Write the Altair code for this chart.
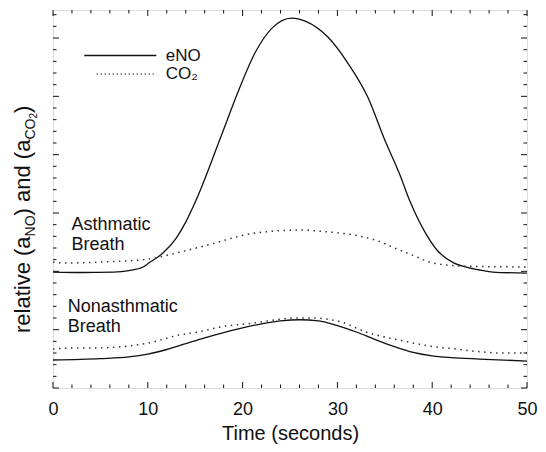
import altair as alt
import pandas as pd

# ---- data (time in s, relative units) ----
asth_no_t = [0, 3, 6.4, 8, 9.5, 10.1, 11.6, 13.0, 14.0, 15.1, 17.7, 19.6, 21.3, 23.1, 25.2, 26.6,
             29.0, 31.1, 33.2, 35.0, 36.6, 37.6, 38.4, 39.3, 40.5, 42.3, 43.6, 45.1, 46.4, 50]
asth_no_v = [9.94, 9.9, 9.94, 10.07, 10.37, 10.71, 11.57, 12.85, 14.22, 16.11, 21.51, 25.54, 28.71,
             30.85, 31.71, 31.45, 30.08, 27.85, 24.94, 21.25, 18.25, 16.11, 14.65, 13.28, 11.83,
             10.71, 10.37, 10.11, 9.94, 9.85]

asth_co2_t = [0, 1.1, 5.1, 10.1, 13.0, 16.3, 21.3, 26.2, 28.0, 32.3, 34.0, 36.3, 38.4, 39.4, 41.5, 43.0, 50]
asth_co2_v = [10.80, 10.71, 10.80, 11.05, 11.57, 12.25, 13.28, 13.54, 13.45, 13.02, 12.68, 11.91,
              11.23, 10.88, 10.54, 10.45, 10.37]

non_no_t = [0, 5, 8, 10, 12, 14, 16, 18, 20, 22, 24, 26, 28, 30, 32, 34, 36, 38, 40, 42, 45, 50]
non_no_v = [2.40, 2.52, 2.66, 2.90, 3.30, 3.80, 4.30, 4.75, 5.15, 5.50, 5.75, 5.85, 5.75, 5.35,
            4.80, 4.15, 3.55, 3.05, 2.75, 2.60, 2.48, 2.31]

non_co2_t = [0, 2.2, 4, 8, 10.1, 13.3, 15.3, 18.2, 20.3, 23.4, 25.4, 27.5, 29.4, 30.4, 33, 35.5,
             36.5, 40.5, 41.5, 45.4, 47, 50]
non_co2_v = [3.34, 3.43, 3.43, 3.60, 3.86, 4.54, 4.80, 5.31, 5.48, 5.83, 6.00, 6.00, 5.83, 5.66,
             4.80, 4.28, 4.11, 3.51, 3.43, 3.08, 3.00, 3.00]

x_major_ticks = [0, 10, 20, 30, 40, 50]
x_minor_ticks = [2, 4, 6, 8, 12, 14, 16, 18, 22, 24, 26, 28, 32, 34, 36, 38, 42, 44, 46, 48]
y_major_ticks = [0, 5, 10, 15, 20, 25, 30]
y_minor_ticks = [1, 2, 3, 4, 6, 7, 8, 9, 11, 12, 13, 14, 16, 17, 18, 19, 21, 22, 23, 24,
                 26, 27, 28, 29, 31, 32]

ann_text = ["Asthmatic", "Breath", "Nonasthmatic", "Breath"]
ann_t = [1.95, 1.95, 1.55, 1.55]
ann_v = [13.97, 12.25, 6.94, 5.23]

legend_labels = ["eNO", "CO₂"]
legend_t1 = [3.3, 4.6]
legend_t2 = [10.9, 10.9]
legend_v = [28.5, 26.9]
legend_text_t = [11.9, 11.9]

W, H = 474, 378
FONT = "Liberation Sans"
INK = "#111111"

xs = alt.Scale(domain=[0, 50], nice=False)
ys = alt.Scale(domain=[0, 32.4], nice=False)

xaxis = alt.Axis(values=x_major_ticks, ticks=False, tickSize=0, domain=False, grid=False,
                 labelFontSize=18, labelFont=FONT, labelColor=INK, labelPadding=12,
                 labelFlush=False, labelOverlap=False,
                 title="Time (seconds)", titleFont=FONT, titleFontSize=20,
                 titleFontWeight="normal", titleColor=INK, titlePadding=5)


def X(field):
    return alt.X(f"{field}:Q", scale=xs, axis=xaxis, title="Time (seconds)")


def Y(field):
    return alt.Y(f"{field}:Q", scale=ys, axis=None)


def line_df(t, v):
    return pd.DataFrame({"t": t, "v": v})


def solid(t, v):
    return alt.Chart(line_df(t, v)).mark_line(color=INK, strokeWidth=1.3, interpolate="monotone").encode(
        x=X("t"), y=Y("v"))


def dotted(t, v):
    return alt.Chart(line_df(t, v)).mark_line(color="#333333", strokeWidth=1.5, strokeDash=[1.5, 4.5],
                                              interpolate="monotone").encode(x=X("t"), y=Y("v"))


layers = [
    solid(asth_no_t, asth_no_v),
    dotted(asth_co2_t, asth_co2_v),
    solid(non_no_t, non_no_v),
    dotted(non_co2_t, non_co2_v),
]


# ticks on all four sides, pointing inwards
def xticks(vals, length):
    d = pd.DataFrame({"t": vals})
    b = alt.Chart(d).mark_rule(color=INK, strokeWidth=1).encode(
        x=X("t"), y=alt.value(H), y2=alt.value(H - length))
    t = alt.Chart(d).mark_rule(color=INK, strokeWidth=1).encode(
        x=X("t"), y=alt.value(0), y2=alt.value(length))
    return [b, t]


def yticks(vals, length):
    d = pd.DataFrame({"v": vals})
    l = alt.Chart(d).mark_rule(color=INK, strokeWidth=1).encode(
        y=Y("v"), x=alt.value(0), x2=alt.value(length))
    r = alt.Chart(d).mark_rule(color=INK, strokeWidth=1).encode(
        y=Y("v"), x=alt.value(W), x2=alt.value(W - length))
    return [l, r]


layers += xticks(x_major_ticks, 6) + xticks(x_minor_ticks, 3.5)
layers += yticks(y_major_ticks, 6) + yticks(y_minor_ticks, 3.5)

# annotations
ann = pd.DataFrame({"label": ann_text, "t": ann_t, "v": ann_v})
layers.append(alt.Chart(ann).mark_text(align="left", baseline="middle", font=FONT, fontSize=18,
                                       color=INK).encode(x=X("t"), y=Y("v"), text="label:N"))

# legend
leg = pd.DataFrame({"label": legend_labels, "t1": legend_t1, "t2": legend_t2, "v": legend_v,
                    "tt": legend_text_t})
layers.append(alt.Chart(leg.iloc[[0]]).mark_rule(color=INK, strokeWidth=1.3).encode(
    x=X("t1"), x2="t2:Q", y=Y("v")))
layers.append(alt.Chart(leg.iloc[[1]]).mark_rule(color="#333333", strokeWidth=1.3,
                                                 strokeDash=[1.2, 2.8]).encode(
    x=X("t1"), x2="t2:Q", y=Y("v")))
layers.append(alt.Chart(leg).mark_text(align="left", baseline="middle", font=FONT, fontSize=17,
                                       color=INK).encode(x=X("tt"), y=Y("v"), text="label:N"))

# y-axis title with subscripts, built from pieces (rotated)
title_parts = ["relative (a", "NO", ") and (a", "CO", "2", ")"]
title_sizes = [22, 14, 22, 14, 10, 22]
title_ypos = [323, 226.4, 205.4, 129.6, 108.6, 103]
title_xpos = [-23, -18, -23, -18, -16, -23]
for txt, fs, yp, xp in zip(title_parts, title_sizes, title_ypos, title_xpos):
    layers.append(alt.Chart(pd.DataFrame({"a": [0]})).mark_text(
        text=txt, angle=270, align="left", baseline="alphabetic", font=FONT, fontSize=fs,
        color=INK).encode(x=alt.value(xp), y=alt.value(yp)))

chart = alt.layer(*layers).properties(
    width=W, height=H,
    autosize=alt.AutoSizeParams(type="none"),
    padding={"left": 45, "top": 2, "right": 11, "bottom": 56},
).configure_view(stroke=INK, strokeWidth=1).configure(background="white")

chart.save("out.html", embed_options={"renderer": "svg", "actions": False})
